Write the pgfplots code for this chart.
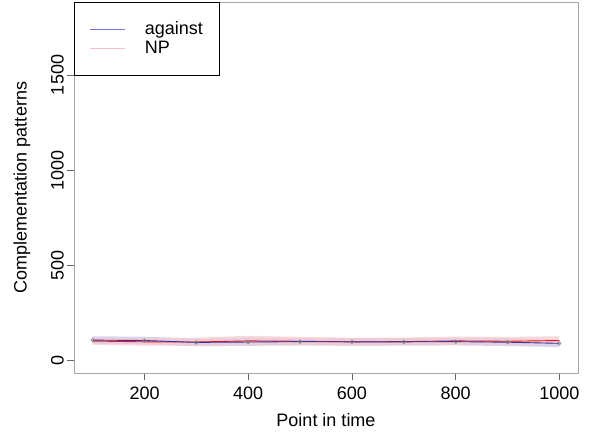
\documentclass[border=0pt]{standalone}
\usepackage{pgfplots}
\pgfplotsset{compat=1.18}
\usepgfplotslibrary{fillbetween}
\usepackage{fontspec}
\setmainfont{Liberation Sans}
\definecolor{bandblue}{RGB}{200,205,240}
\definecolor{bandred}{RGB}{250,200,205}
\definecolor{lineblue}{RGB}{50,50,160}
\definecolor{linered}{RGB}{220,30,30}
\definecolor{legblue}{RGB}{115,115,225}
\definecolor{legred}{RGB}{250,190,195}
\begin{document}
\begin{tikzpicture}
\fontsize{18}{21}\selectfont
\begin{axis}[
  scale only axis, width=504pt, height=371pt,
  anchor=south west, at={(0pt,0pt)},
  xmin=64, xmax=1036, ymin=-68, ymax=1884,
  xtick={200,400,600,800,1000}, ytick={0,500,1000,1500},
  tick align=outside, major tick length=7pt,
  axis line style={gray!70, line width=0.8pt},
  tick style={gray!80!black, line width=0.8pt},
  xtick pos=bottom, ytick pos=left,
  /pgf/number format/assume math mode=true,
  /pgf/number format/1000 sep={},
  tick label style={font=\fontsize{18}{21}\selectfont},
  xticklabel style={yshift=-1pt},
  yticklabel style={xshift=3pt, rotate=90, anchor=south},
  xlabel={Point in time}, ylabel={Complementation patterns},
  label style={font=\fontsize{18}{21}\selectfont},
  every axis x label/.style={at={(axis description cs:0.5,-0.127)}, anchor=center},
  every axis y label/.style={at={(axis description cs:-0.103,0.5)}, anchor=center, rotate=90},
  legend style={at={(0,1)}, anchor=north west, draw=black, line width=0.9pt,
    font=\fontsize{18}{21}\selectfont, inner xsep=15pt, inner ysep=17pt,
    row sep=0pt, legend cell align=left, column sep=17pt},
  legend image code/.code={\draw[#1] (0pt,0pt) -- (35pt,0pt);},
]
\addplot[name path=bu, draw=none, forget plot] coordinates {(100,125)(200,123)(300,113)(400,115)(500,117)(600,116)(700,116)(800,117)(900,114)(1000,108)};
\addplot[name path=bl, draw=none, forget plot] coordinates {(100,85)(200,83)(300,73)(400,75)(500,77)(600,76)(700,76)(800,77)(900,74)(1000,68)};
\addplot[bandblue, opacity=0.8, forget plot] fill between[of=bu and bl];
\addplot[name path=ru, draw=none, forget plot] coordinates {(100,120)(200,115)(300,117)(400,128)(500,122)(600,117)(700,118)(800,124)(900,122)(1000,125)};
\addplot[name path=rl, draw=none, forget plot] coordinates {(100,80)(200,76)(300,75)(400,78)(500,78)(600,76)(700,77)(800,80)(900,78)(1000,82)};
\addplot[bandred, opacity=0.7, forget plot] fill between[of=ru and rl];
\addplot[linered, line width=0.9pt, forget plot] coordinates {(100,100)(200,96)(300,95)(400,101)(500,99)(600,96)(700,97)(800,101)(900,99)(1000,103)};
\addplot[lineblue, line width=0.9pt, mark=o, mark size=1.8pt, mark options={gray, line width=0.6pt}, forget plot] coordinates {(100,105)(200,103)(300,93)(400,95)(500,97)(600,96)(700,96)(800,97)(900,94)(1000,88)};
\addlegendimage{draw=legblue, line width=1.4pt}
\addlegendentry{against}
\addlegendimage{draw=legred, line width=1.4pt}
\addlegendentry{NP}
\end{axis}
\path[use as bounding box] (-74pt,-64pt) rectangle (529pt,373pt);
\end{tikzpicture}
\end{document}
